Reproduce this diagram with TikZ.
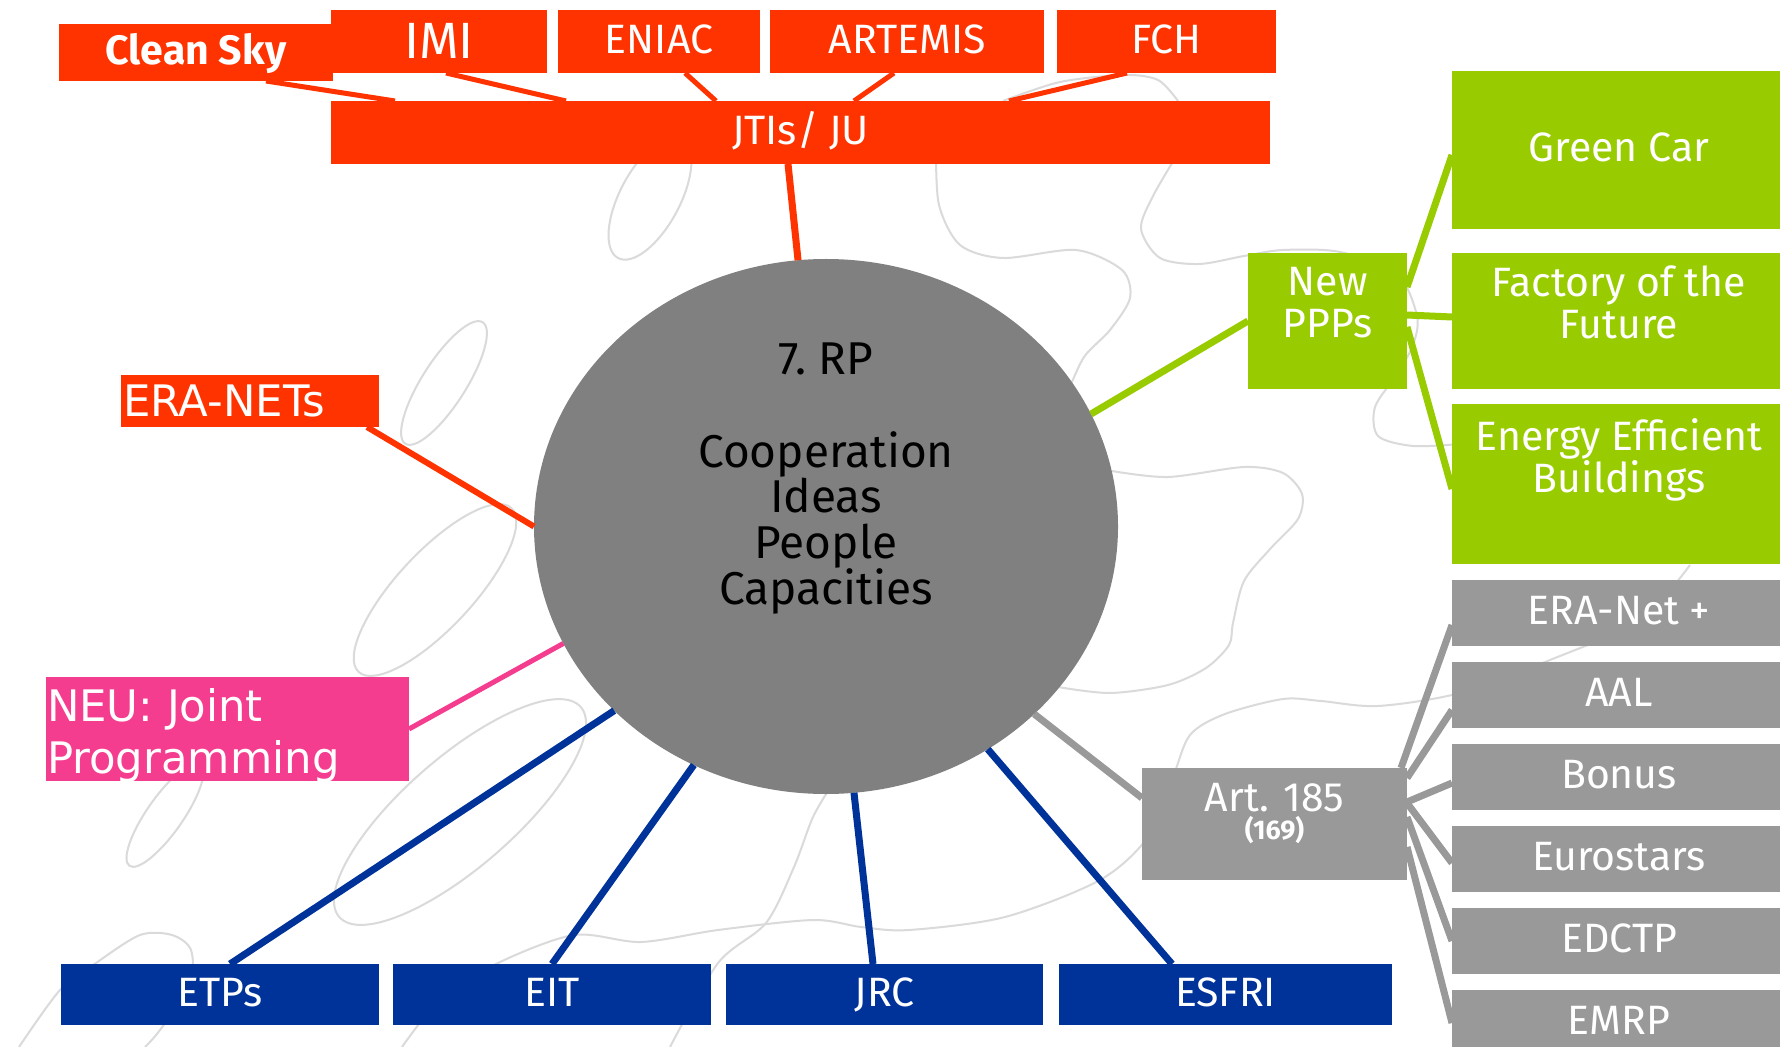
\documentclass[tikz,border=0pt]{standalone}
\usepackage{fontspec}
\setmainfont{Fira Sans}
\newfontfamily\verd{DejaVu Sans}
\usetikzlibrary{positioning,shapes.geometric}

\definecolor{jured}{HTML}{FF3300}
\definecolor{pppgreen}{HTML}{99CC00}
\definecolor{infrablue}{HTML}{003399}
\definecolor{artgrey}{HTML}{999999}
\definecolor{rpgrey}{HTML}{808080}
\definecolor{neupink}{HTML}{F53D8F}
\definecolor{scribblegrey}{HTML}{DADADA}

\newcommand\boxfont{\fontsize{20.5}{21}\selectfont}
\newcommand\imifont{\fontsize{25.5}{26}\selectfont}
\newcommand\rpfont{\fontsize{23}{22.85}\selectfont}
\newcommand\verdfont{\verd\fontsize{21.7}{25.85}\selectfont}
\newcommand\numfont{\bfseries\fontsize{13.5}{13.5}\selectfont}
\lineskiplimit=-20pt

\begin{document}
\begin{tikzpicture}[x=0.5pt,y=-0.5pt,
  box/.style={rectangle,inner sep=0pt,outer sep=0pt,text=white,font=\boxfont},
  onebox/.style={box,text height=14.1pt,text depth=2.5pt},
  jubox/.style={onebox,fill=jured,minimum height=31.5pt},
  bluebox/.style={onebox,fill=infrablue,minimum width=159pt,minimum height=30.5pt},
  greenbox/.style={box,fill=pppgreen,minimum width=167pt},
  greybox/.style={onebox,fill=artgrey,minimum width=167pt,minimum height=33pt},
  boxtext/.style={box,align=center},
  scribble/.style={draw=scribblegrey,line width=1pt},
  juline/.style={draw=jured,line width=2.5pt},
  infraline/.style={draw=infrablue,line width=3.5pt},
  pppline/.style={draw=pppgreen,line width=3.5pt},
  artline/.style={draw=artgrey,line width=3.5pt}]

\path[use as bounding box] (0,0) rectangle (1780,1047);
\clip (0,0) rectangle (1780,1047);
\fill[white] (0,0) rectangle (1780,1047);

% background scribbles
\draw[scribble,rotate around={57.5:(444,383)}] (444,383) ellipse [x radius=72,y radius=22];
\draw[scribble,rotate around={47:(435,590)}] (435,590) ellipse [x radius=112,y radius=38];
\draw[scribble,rotate around={41:(460,812)}] (460,812) ellipse [x radius=160,y radius=55];
\draw[scribble,rotate around={55:(165,815)}] (165,815) ellipse [x radius=62,y radius=18];
\draw[scribble,rotate around={62:(650,198)}] (650,198) ellipse [x radius=68,y radius=30];
\draw[scribble] plot[smooth] coordinates {(936,150) (939,205) (960,245) (1003,258) (1076,250)
  (1122,270) (1130,298) (1110,330) (1084,357) (1068,392)};
\draw[scribble] plot[smooth] coordinates {(1180,150) (1153,196) (1141,229) (1160,258) (1199,264)
  (1244,256) (1283,250) (1340,252) (1397,274) (1417,316) (1413,345) (1397,374) (1375,407)
  (1378,436) (1413,446) (1460,444)};
\draw[scribble] plot[smooth] coordinates {(1112,471) (1168,477) (1244,467) (1283,473) (1302,494)
  (1298,519) (1271,548) (1244,581) (1233,623) (1229,645) (1206,668) (1168,685) (1110,693) (1058,687)};
\draw[scribble] plot[smooth] coordinates {(402,1047) (440,1000) (498,963) (574,935) (641,942)
  (718,930) (813,920) (861,927) (909,930) (1005,917) (1100,880) (1148,837) (1172,780) (1190,735)
  (1225,714) (1283,699) (1321,701) (1378,706) (1460,693) (1550,660) (1640,620) (1690,565)};
\draw[scribble] plot[smooth] coordinates {(670,1047) (718,963) (766,923) (794,867) (813,817) (833,783)};
\draw[scribble] plot[smooth] coordinates {(19,1047) (60,990) (96,963) (140,935) (172,935)
  (191,950) (190,985) (160,1030) (145,1047)};
\draw[scribble] plot[smooth] coordinates {(1003,101) (1060,82) (1124,75) (1158,80) (1178,101)};

% JTIs
\node[jubox,font=\boxfont\bfseries,minimum width=137pt,minimum height=28.5pt] (cleansky) at (196,52.5) {Clean Sky};
\node[jubox,font=\imifont,text height=17.6pt,text depth=1pt,minimum width=108pt] (imi) at (439,41.5) {IMI};
\node[jubox,minimum width=101pt] (eniac) at (659,41.5) {ENIAC};
\node[jubox,minimum width=137pt] (artemis) at (907,41.5) {ARTEMIS};
\node[jubox,minimum width=109.5pt] (fch) at (1166.5,41.5) {FCH};
\node[jubox,minimum width=469.5pt] (jti) at (800.5,132.5) {JTIs/ JU};

% FP7
\node[ellipse,fill=rpgrey,inner sep=0pt,outer sep=0pt,minimum width=292pt,minimum height=267.5pt] (rp) at (826,526.5) {};
\node[font=\rpfont,align=center,inner sep=0pt,below=41.5pt of rp.north] (rptext)
  {7.\ RP\\[23.65pt]Cooperation\\Ideas\\People\\Capacities};

% left
\node[onebox,fill=jured,font=\verdfont,text height=15.8pt,text depth=0pt,minimum height=26pt,inner xsep=1pt,text width=127pt,align=left] (eranet) at (250,401) {ERA-NETs};
\node[box,fill=neupink,minimum width=181.5pt,minimum height=52pt] (neu) at (227.5,729) {};
\node[box,font=\verdfont,align=left,anchor=north west] (neutext) at ([xshift=0.5pt,yshift=-6pt]neu.north west) {NEU: Joint\\Programming};

% bottom
\node[bluebox] (etps) at (220,994.5) {ETPs};
\node[bluebox] (eit) at (552,994.5) {EIT};
\node[bluebox,minimum width=158.5pt] (jrc) at (884.5,994.5) {JRC};
\node[bluebox,minimum width=166.5pt] (esfri) at (1225.5,994.5) {ESFRI};

% PPPs
\node[box,fill=pppgreen,minimum width=79.5pt,minimum height=68pt] (ppp) at (1327.5,321) {};
\node[boxtext,below=7.25pt of ppp.north] (ppptext) {New\\PPPs};
\node[greenbox,onebox,minimum height=79pt] (greencar) at (1619,150) {Green Car};
\node[greenbox,minimum height=68pt] (factory) at (1619,321) {};
\node[boxtext,below=6.5pt of factory.north] (factorytext) {Factory of the\\Future};
\node[greenbox,minimum height=80pt] (energy) at (1619,484) {};
\node[boxtext,below=7.5pt of energy.north] (energytext) {Energy Efficient\\Buildings};

% Art. 185
\node[box,fill=artgrey,minimum width=132.5pt,minimum height=56pt] (art) at (1274.5,824) {};
\node[box,anchor=base,text depth=0pt] (arttext) at ([yshift=-21.5pt]art.north) {Art. 185};
\node[box,font=\numfont,anchor=base,text height=8.5pt] (artnum) at ([yshift=-14pt]arttext.base) {(169)};
\node[greybox] (eranetplus) at (1619,613) {ERA-Net +};
\node[greybox] (aal) at (1619,695) {AAL};
\node[greybox] (bonus) at (1619,777) {Bonus};
\node[greybox] (eurostars) at (1619,859) {Eurostars};
\node[greybox] (edctp) at (1619,941) {EDCTP};
\node[greybox] (emrp) at (1619,1023) {EMRP};

\path[juline]
  ([xshift=35pt]cleansky.south) edge ([xshift=-202.75pt]jti.north)
  ([xshift=3.5pt]imi.south) edge ([xshift=-117.25pt]jti.north)
  ([xshift=13pt]eniac.south) edge ([xshift=-42.25pt]jti.north)
  ([xshift=-6.5pt]artemis.south) edge ([xshift=26.75pt]jti.north)
  ([xshift=-19.75pt]fch.south) edge ([xshift=104.25pt]jti.north)
  ([xshift=-6.25pt]jti.south) edge[line width=3.5pt] (rp.96)
  ([xshift=-6pt]eranet.south east) edge[line width=3pt] (rp.180);
\path[draw=neupink,line width=2.5pt] (neu.east) edge (rp.204.5);
\path[infraline]
  ([xshift=5pt]etps.north) edge (rp.221)
  (eit.north) edge (rp.241)
  ([xshift=-5.75pt]jrc.north) edge (rp.276)
  ([xshift=-26.75pt]esfri.north) edge (rp.306.5);
\path[pppline]
  (rp.23) edge (ppp.west)
  ([yshift=17pt]ppp.east) edge ([yshift=-2.5pt]greencar.west)
  ([yshift=3pt]ppp.east) edge ([yshift=2pt]factory.west)
  ([yshift=-3pt]ppp.east) edge ([yshift=-2.5pt]energy.west);
\path[artline]
  (rp.318) edge ([yshift=13pt]art.west)
  ([xshift=-3pt]art.north east) edge ([yshift=-6pt]eranetplus.west)
  ([yshift=-5pt]art.north east) edge ([yshift=-7.5pt]aal.west)
  ([yshift=11pt]art.east) edge ([yshift=-3pt]bonus.west)
  ([yshift=10.5pt]art.east) edge ([yshift=-2pt]eurostars.west)
  ([yshift=3.5pt]art.east) edge (edctp.west)
  ([yshift=-11.5pt]art.east) edge (emrp.west);
\end{tikzpicture}
\end{document}
